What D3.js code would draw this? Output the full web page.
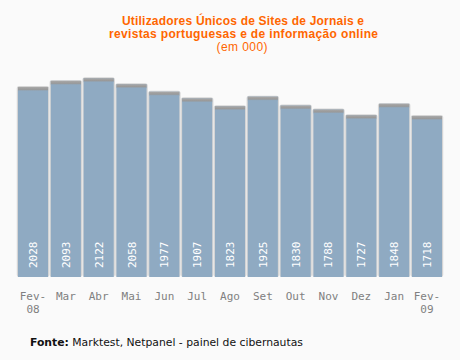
<!DOCTYPE html>
<html><head><meta charset="utf-8">
<script src="https://cdn.jsdelivr.net/npm/d3@7"></script>
<style>html,body{margin:0;padding:0;background:#fafafa;}svg{display:block;}</style>
</head><body>
<svg id="c" width="460" height="360"></svg>
<script>
const months = ["Fev-\n08","Mar","Abr","Mai","Jun","Jul","Ago","Set","Out","Nov","Dez","Jan","Fev-\n09"];
const values = [2028,2093,2122,2058,1977,1907,1823,1925,1830,1788,1727,1848,1718];
const titleLines = ["Utilizadores Únicos de Sites de Jornais e","revistas portuguesas e de informação online","(em 000)"];

const svg = d3.select("#c");
svg.append("rect").attr("width",460).attr("height",360).attr("fill","#fafafa");

const defs = svg.append("defs");
const g1 = defs.append("linearGradient").attr("id","cap").attr("x1",0).attr("x2",0).attr("y1",0).attr("y2",1);
g1.append("stop").attr("offset","0%").attr("stop-color","#a8a8a8");
g1.append("stop").attr("offset","60%").attr("stop-color","#999");
g1.append("stop").attr("offset","100%").attr("stop-color","#8faac2");

const x = d3.scaleBand().domain(months).range([16.6,443.4]).paddingInner(0.084).paddingOuter(0.042);
const y = d3.scaleLinear().domain([0,2200]).range([277,70.9]);

const bars = svg.append("g").selectAll("g").data(values).join("g");
bars.append("rect")
  .attr("x",(d,i)=>x(months[i])-1.2).attr("y",d=>y(d)-1)
  .attr("width",x.bandwidth()+2.4).attr("height",d=>y(0)-y(d)+1)
  .attr("rx",2.5).attr("fill","#d6d6d6");
bars.append("rect")
  .attr("x",(d,i)=>x(months[i])).attr("y",d=>y(d))
  .attr("width",x.bandwidth()).attr("height",d=>y(0)-y(d))
  .attr("fill","#8faac2");
bars.append("rect")
  .attr("x",(d,i)=>x(months[i])).attr("y",d=>y(d))
  .attr("width",x.bandwidth()).attr("height",4)
  .attr("fill","url(#cap)");
bars.append("text")
  .attr("transform",(d,i)=>`translate(${x(months[i])+x.bandwidth()/2+4},268) rotate(-90)`)
  .attr("fill","#fff").attr("font-family","DejaVu Sans Mono").attr("font-size","11px")
  .text(d=>d);

const xl = svg.append("g");
months.forEach(m=>{
  const t = xl.append("text").attr("text-anchor","middle")
    .attr("font-family","DejaVu Sans Mono").attr("font-size","11px").attr("fill","#808080");
  m.split("\n").forEach((s,k)=>{
    t.append("tspan").attr("x",x(m)+x.bandwidth()/2).attr("y",300+k*12.5).text(s);
  });
});

const tt = svg.append("g");
const tCx = [243,243.5,242], tLen = [242,269,51];
titleLines.forEach((s,k)=>{
  tt.append("text").attr("x",tCx[k]).attr("y",[25,38,51][k]).attr("text-anchor","middle")
    .attr("font-family","Liberation Sans").attr("font-size","12px")
    .attr("textLength",tLen[k]).attr("lengthAdjust","spacing")
    .attr("font-weight",k<2?"bold":"normal").attr("fill","#ff6600").text(s);
});

const f = svg.append("text").attr("x",30).attr("y",346)
  .attr("font-family","DejaVu Sans").attr("font-size","10.8px").attr("fill","#111");
f.append("tspan").attr("font-weight","bold").text("Fonte:");
f.append("tspan").text(" Marktest, Netpanel - painel de cibernautas");
</script>
</body></html>
